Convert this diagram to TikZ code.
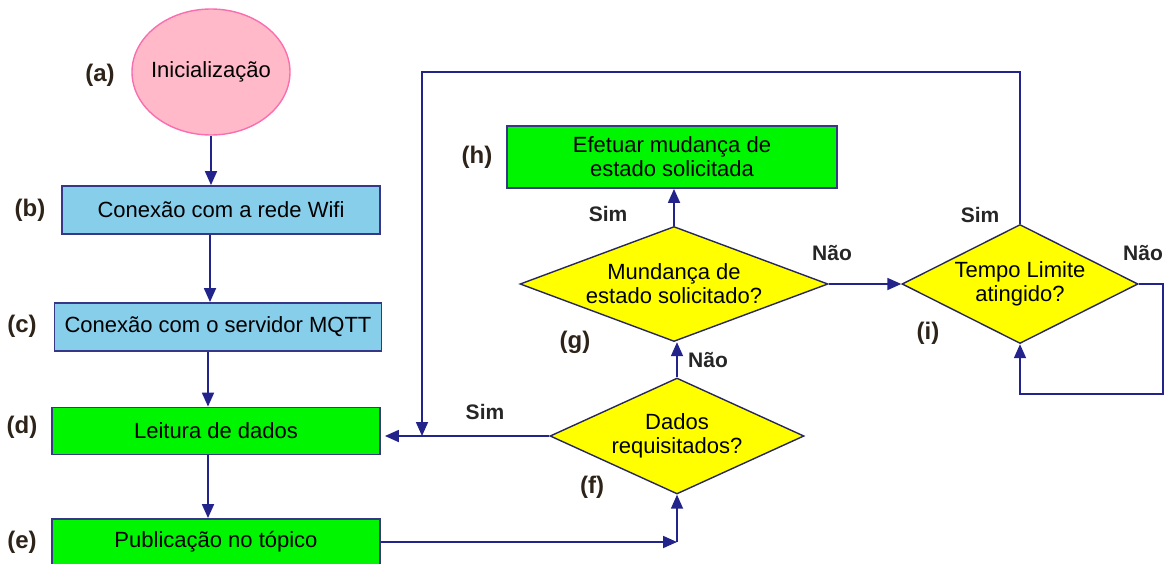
\documentclass[tikz,border=0pt]{standalone}
\usepackage{fontspec}
\setmainfont{Liberation Sans}
\usepackage{xcolor}
\usepackage{tikz}
\usetikzlibrary{shapes.geometric}
\usetikzlibrary{arrows.meta}
\usetikzlibrary{calc}

\definecolor{lineblue}{RGB}{35,35,140}
\definecolor{edgeblue}{RGB}{55,55,135}
\definecolor{pinkfill}{RGB}{255,185,200}
\definecolor{pinkline}{RGB}{250,110,175}
\definecolor{skyfill}{RGB}{135,206,235}
\definecolor{greenfill}{RGB}{0,245,0}
\definecolor{yellowfill}{RGB}{255,255,0}
\definecolor{tagcol}{RGB}{45,35,25}

\tikzset{
  txt/.style={font=\fontsize{22}{24}\selectfont,align=center,text=black},
  startnode/.style={txt,ellipse,draw=pinkline,fill=pinkfill,line width=1.4pt,
    minimum width=158pt,minimum height=126pt,inner xsep=-10pt,inner ysep=0pt},
  bluebox/.style={txt,rectangle,draw=edgeblue,fill=skyfill,line width=1.8pt,
    minimum height=48pt,inner sep=0pt},
  greenbox/.style={txt,rectangle,draw=edgeblue,fill=greenfill,line width=1.8pt,
    minimum height=47pt,inner sep=0pt},
  decision/.style={txt,diamond,draw=edgeblue!70!black,fill=yellowfill,line width=1.4pt,
    inner sep=0pt},
  tag/.style={font=\fontsize{24}{26}\selectfont\bfseries,text=tagcol},
  answer/.style={font=\fontsize{21}{23}\selectfont\bfseries,text=black!85},
  flow/.style={draw=lineblue,line width=1.8pt,-{Triangle[length=14pt,width=12pt]}},
  wire/.style={draw=lineblue,line width=1.8pt}
}

\begin{document}
\begin{tikzpicture}[x=1pt,y=-1pt]
  \useasboundingbox (0,0) rectangle (1172,563);

  \node[startnode] (ini) at (211,72) {Inicialização};
  \node[bluebox,minimum width=318pt] (wifi) at (221,210) {Conexão com a rede Wifi};
  \node[bluebox,minimum width=327pt] (mqtt) at (218,327) {Conexão com o servidor MQTT};
  \node[greenbox,minimum width=328pt] (leitura) at (216,431) {Leitura de dados};
  \node[greenbox,minimum width=328pt,minimum height=46pt] (pub) at (216,542) {Publicação no tópico};

  \node[decision,minimum width=254pt,minimum height=116pt,aspect=2.19] (req) at (677,436) {Dados\\requisitados?};
  \node[decision,minimum width=308pt,minimum height=115pt,aspect=2.68] (mud) at (674,284) {Mundança de\\estado solicitado?};
  \node[greenbox,minimum width=330pt,minimum height=62pt] (efet) at (672,157) {Efetuar mudança de\\estado solicitada};
  \node[decision,minimum width=236pt,minimum height=119pt,aspect=1.98] (tempo) at (1020,284) {Tempo Limite\\atingido?};

  \node[tag] (ta) at (100,75) {(a)};
  \node[tag] (tb) at (30,210) {(b)};
  \node[tag] (tc) at (22,326) {(c)};
  \node[tag] (td) at (22,427) {(d)};
  \node[tag] (te) at (22,542) {(e)};
  \node[tag] (tf) at (592,487) {(f)};
  \node[tag] (tg) at (575,342) {(g)};
  \node[tag] (th) at (477,157) {(h)};
  \node[tag] (ti) at (928,333) {(i)};

  \node[answer] (simreq) at (485,412) {Sim};
  \node[answer] (naoreq) at (708,360) {Não};
  \node[answer] (simmud) at (608,214) {Sim};
  \node[answer] (naomud) at (832,253) {Não};
  \node[answer] (simtempo) at (980,215) {Sim};
  \node[answer] (naotempo) at (1143,253) {Não};

  \coordinate (wifiout) at ($(wifi.south)+(-11,0)$);
  \coordinate (mqttout) at ($(mqtt.south)+(-10,0)$);
  \coordinate (leituraout) at ($(leitura.south)+(-8,0)$);
  \coordinate (pubturn) at (pub.east -| req.south);
  \coordinate (looptop) at (422,72);
  \coordinate (loopjoin) at (looptop |- req.west);
  \coordinate (idleturn) at ($(tempo.east)+(24,0)$);

  \draw[flow] (ini.south) -- (ini.south |- wifi.north);
  \draw[flow] (wifiout) -- (wifiout |- mqtt.north);
  \draw[flow] (mqttout) -- (mqttout |- leitura.north);
  \draw[flow] (leituraout) -- (leituraout |- pub.north);
  \draw[flow] (pub.east) -- (pubturn);
  \draw[flow] (pubturn) -- (req.south);
  \draw[flow,shorten >=4pt] (req.west) -- (req.west -| leitura.east);
  \draw[flow] (req.north) -- (req.north |- mud.south);
  \draw[flow] (mud.north) -- (mud.north |- efet.south);
  \draw[flow] (mud.east) -- (tempo.west);
  \draw[flow] (tempo.north) |- (looptop) -- (loopjoin);
  \draw[flow] (tempo.east) -- (idleturn) -- ++(0,110) -| (tempo.south);
\end{tikzpicture}
\end{document}
